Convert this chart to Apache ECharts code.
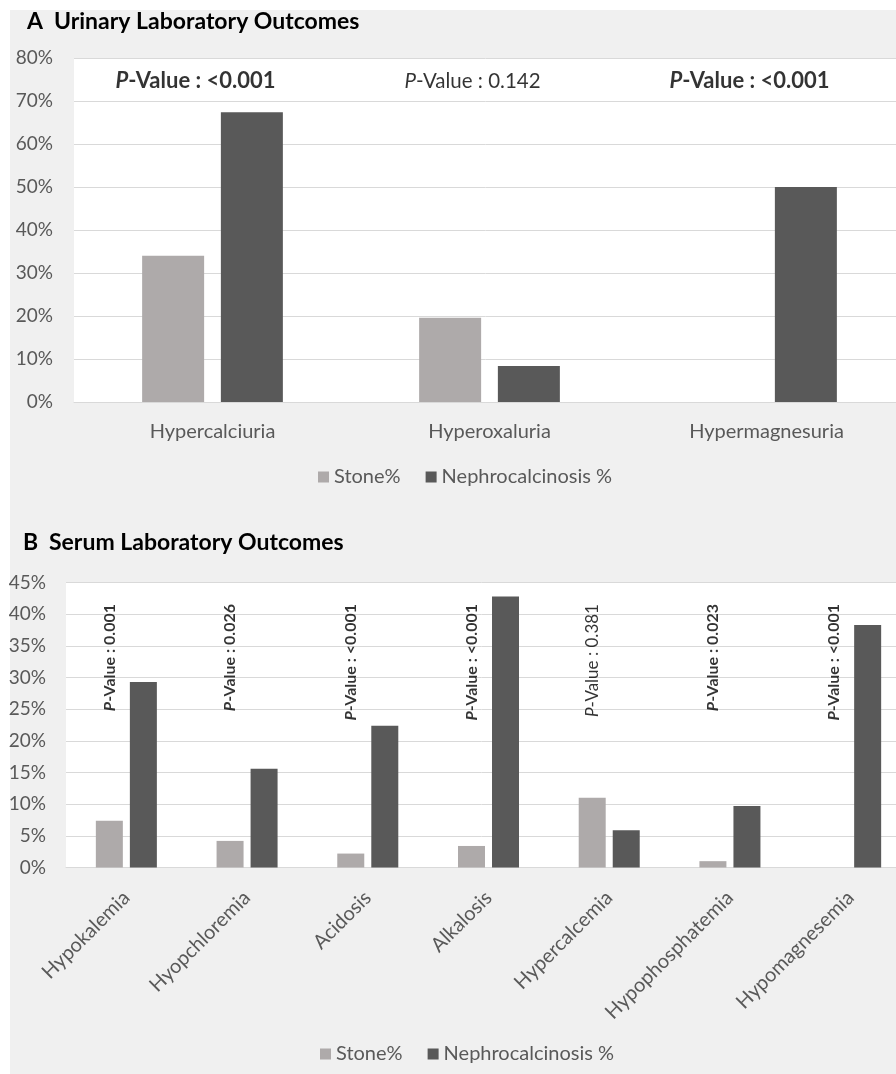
<!DOCTYPE html>
<html>
<head>
<meta charset="utf-8">
<script src="https://cdn.jsdelivr.net/npm/echarts@6/dist/echarts.min.js"></script>
<style>
  html, body { margin: 0; padding: 0; background: #ffffff; }
  #chart { width: 896px; height: 1074px; }
</style>
</head>
<body>
<div id="chart"></div>
<script>
// ---- Panel A: urinary outcomes ----
const urinaryCategories = ['Hypercalciuria', 'Hyperoxaluria', 'Hypermagnesuria'];
const urinaryStone = [34.0, 19.6, 0];
const urinaryNephro = [67.4, 8.4, 50.0];
const urinaryPValues = ['<0.001', '0.142', '<0.001'];
const urinaryPBold = [true, false, true];

// ---- Panel B: serum outcomes ----
const serumCategories = ['Hypokalemia', 'Hyopchloremia', 'Acidosis', 'Alkalosis',
  'Hypercalcemia', 'Hypophosphatemia', 'Hypomagnesemia'];
const serumStone = [7.4, 4.2, 2.2, 3.4, 11.0, 1.0, 0];
const serumNephro = [29.3, 15.6, 22.4, 42.8, 5.9, 9.7, 38.3];
const serumPValues = ['0.001', '0.026', '<0.001', '<0.001', '0.381', '0.023', '<0.001'];
const serumPBold = [true, true, true, true, false, true, true];

const seriesNames = ['Stone%', 'Nephrocalcinosis %'];

const FONT = 'Lato, "Noto Sans", sans-serif';
const AXIS_COLOR = '#595959';
const STONE_COLOR = '#aeaaaa';
const NEPHRO_COLOR = '#595959';
const GRID_LINE = '#d9d9d9';

function pLabel(p, bold) {
  return bold ? '{pi|P}{pb|-Value : ' + p + '}' : '{ri|P}{rr|-Value : ' + p + '}';
}
function pRich(boldSize, regularSize) {
  return {
    pi: { fontFamily: FONT, fontSize: boldSize, fontWeight: 'bold', fontStyle: 'italic', color: '#000' },
    pb: { fontFamily: FONT, fontSize: boldSize, fontWeight: 'bold', color: '#000' },
    ri: { fontFamily: FONT, fontSize: regularSize, fontStyle: 'italic', color: '#000' },
    rr: { fontFamily: FONT, fontSize: regularSize, color: '#000' }
  };
}
function titleRich(letterWidth) {
  return {
    l: { fontFamily: FONT, fontSize: 23, fontWeight: 'bold', color: '#000', width: letterWidth },
    t: { fontFamily: FONT, fontSize: 23, fontWeight: 'bold', color: '#000' }
  };
}

const chart = echarts.init(document.getElementById('chart'), null, { renderer: 'canvas' });

const axisLabelStyle = { color: AXIS_COLOR, fontFamily: FONT, fontSize: 19 };
const catLabelStyle = { color: AXIS_COLOR, fontFamily: FONT, fontSize: 20 };
const legendText = { color: AXIS_COLOR, fontFamily: FONT, fontSize: 20 };

const option = {
  backgroundColor: '#ffffff',
  animation: false,
  graphic: [{
    type: 'rect', z: -10, silent: true,
    shape: { x: 10, y: 10, width: 886, height: 1064 },
    style: { fill: '#f0f0f0' }
  }],
  title: [
    {
      left: 27, top: 10, padding: 0,
      text: '{l|A}{t|Urinary Laboratory Outcomes}',
      textStyle: { rich: titleRich(27) }
    },
    {
      left: 23, top: 531, padding: 0,
      text: '{l|B}{t|Serum Laboratory Outcomes}',
      textStyle: { rich: titleRich(26) }
    }
  ],
  legend: [
    {
      left: 318, top: 467, padding: 0, data: seriesNames, icon: 'rect',
      itemWidth: 11, itemHeight: 11, itemGap: 25, textStyle: legendText
    },
    {
      left: 320, top: 1044, padding: 0, data: seriesNames, icon: 'rect',
      itemWidth: 11, itemHeight: 11, itemGap: 25, textStyle: legendText
    }
  ],
  grid: [
    { left: 74, top: 58, right: -9, height: 344, show: true, backgroundColor: '#ffffff',
      borderWidth: 0, containLabel: false, outerBoundsMode: 'none' },
    { left: 66, top: 582.5, right: -15, height: 285, show: true, backgroundColor: '#ffffff',
      borderWidth: 0, containLabel: false, outerBoundsMode: 'none' }
  ],
  xAxis: [
    {
      type: 'category', gridIndex: 0, data: urinaryCategories,
      axisLine: { lineStyle: { color: GRID_LINE, width: 1 } },
      axisTick: { show: false },
      axisLabel: Object.assign({ margin: 20 }, catLabelStyle)
    },
    {
      type: 'category', gridIndex: 1, data: serumCategories,
      axisLine: { lineStyle: { color: GRID_LINE, width: 1 } },
      axisTick: { show: false },
      axisLabel: Object.assign({ margin: 27, rotate: 45, interval: 0 }, catLabelStyle)
    }
  ],
  yAxis: [
    {
      type: 'value', gridIndex: 0, min: 0, max: 80, interval: 10,
      axisLine: { show: false }, axisTick: { show: false },
      splitLine: { lineStyle: { color: GRID_LINE, width: 1 } },
      axisLabel: Object.assign({ margin: 21, formatter: '{value}%' }, axisLabelStyle)
    },
    {
      type: 'value', gridIndex: 1, min: 0, max: 45, interval: 5,
      axisLine: { show: false }, axisTick: { show: false },
      splitLine: { lineStyle: { color: GRID_LINE, width: 1 } },
      axisLabel: Object.assign({ margin: 20, formatter: '{value}%' }, axisLabelStyle)
    }
  ],
  series: [
    {
      name: seriesNames[0], type: 'bar', xAxisIndex: 0, yAxisIndex: 0,
      data: urinaryStone, barWidth: 62, barGap: '27%',
      itemStyle: { color: STONE_COLOR }
    },
    {
      name: seriesNames[1], type: 'bar', xAxisIndex: 0, yAxisIndex: 0,
      data: urinaryNephro, barWidth: 62, barGap: '27%',
      itemStyle: { color: NEPHRO_COLOR }
    },
    {
      name: seriesNames[0], type: 'bar', xAxisIndex: 1, yAxisIndex: 1,
      data: serumStone, barWidth: 27, barGap: '26%',
      itemStyle: { color: STONE_COLOR }
    },
    {
      name: seriesNames[1], type: 'bar', xAxisIndex: 1, yAxisIndex: 1,
      data: serumNephro, barWidth: 27, barGap: '26%',
      itemStyle: { color: NEPHRO_COLOR }
    },
    // P-value annotations, panel A (horizontal, above the bars)
    {
      type: 'scatter', xAxisIndex: 0, yAxisIndex: 0, symbolSize: 0, silent: true,
      data: urinaryCategories.map(function (c, i) {
        return { value: [c, 74.6], label: { formatter: pLabel(urinaryPValues[i], urinaryPBold[i]) } };
      }),
      label: {
        show: true, position: 'inside', offset: [-17, 0],
        align: 'center', verticalAlign: 'middle', rich: pRich(22, 20.5)
      }
    },
    // P-value annotations, panel B (vertical, reading upwards; offset is in the rotated frame)
    {
      type: 'scatter', xAxisIndex: 1, yAxisIndex: 1, symbolSize: 0, silent: true,
      data: serumCategories.map(function (c, i) {
        return { value: [c, 41.6], label: { formatter: pLabel(serumPValues[i], serumPBold[i]) } };
      }),
      label: {
        show: true, position: 'inside', offset: [0, -17], rotate: 90,
        align: 'right', verticalAlign: 'middle', rich: pRich(16, 17)
      }
    }
  ]
};

chart.setOption(option);
</script>
</body>
</html>
